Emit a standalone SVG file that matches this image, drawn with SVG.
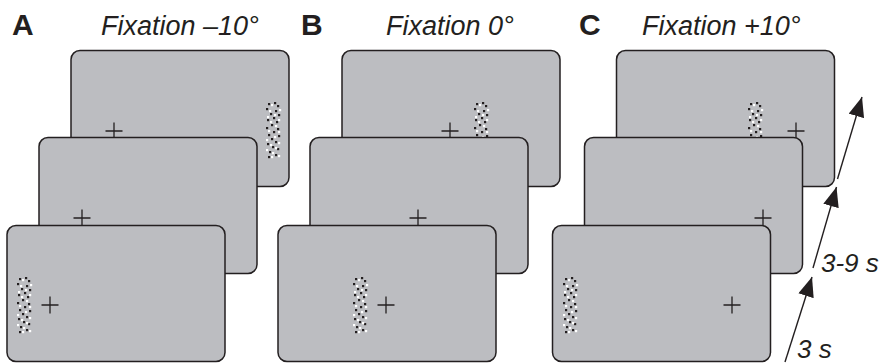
<svg xmlns="http://www.w3.org/2000/svg" width="881" height="364" viewBox="0 0 881 364">
<style>
.scr{fill:#bcbdc1;stroke:#231f20;stroke-width:1.5}
.cross{stroke:#231f20;stroke-width:1.3;fill:none}
.lbl{font-family:"Liberation Sans",Arial,sans-serif;font-weight:bold;font-size:30px;fill:#231f20}
.ttl{font-family:"Liberation Sans",Arial,sans-serif;font-style:italic;font-size:27px;fill:#231f20}
.tm{font-family:"Liberation Sans",Arial,sans-serif;font-style:italic;font-size:26px;fill:#231f20}
.conn{stroke:#231f20;stroke-width:1.4;fill:none}
.b rect{fill:#231f20}
.w rect{fill:#ffffff}
</style>
<defs>
<marker id="ah" markerUnits="userSpaceOnUse" markerWidth="20" markerHeight="16" refX="16" refY="6.5" orient="auto" viewBox="0 0 16 13">
<path d="M0,0 L16,6.5 L0,13 Z" fill="#231f20"/>
</marker>
<g id="dots">
<g class="b">
<rect x="2" y="1" width="2.2" height="2.2"/><rect x="8" y="0" width="2.2" height="2.2"/><rect x="11" y="3" width="2.2" height="2.2"/>
<rect x="0" y="6" width="2.2" height="2.2"/><rect x="9" y="8" width="2.2" height="2.2"/><rect x="4" y="11" width="2.2" height="2.2"/><rect x="12" y="12" width="2.2" height="2.2"/>
<rect x="7" y="15" width="2.2" height="2.2"/><rect x="1" y="17" width="2.2" height="2.2"/><rect x="10" y="19" width="2.2" height="2.2"/>
<rect x="5" y="22" width="2.2" height="2.2"/><rect x="0" y="25" width="2.2" height="2.2"/><rect x="11" y="26" width="2.2" height="2.2"/>
<rect x="7" y="29" width="2.2" height="2.2"/><rect x="2" y="32" width="2.2" height="2.2"/><rect x="12" y="33" width="2.2" height="2.2"/>
<rect x="5" y="36" width="2.2" height="2.2"/><rect x="9" y="39" width="2.2" height="2.2"/><rect x="1" y="41" width="2.2" height="2.2"/>
<rect x="6" y="44" width="2.2" height="2.2"/><rect x="11" y="46" width="2.2" height="2.2"/><rect x="3" y="49" width="2.2" height="2.2"/>
<rect x="9" y="52" width="2.2" height="2.2"/><rect x="2" y="54" width="2.2" height="2.2"/>
</g>
<g class="w">
<rect x="5" y="2" width="2.2" height="2.2"/><rect x="13" y="7" width="2.2" height="2.2"/><rect x="3" y="8" width="2.2" height="2.2"/>
<rect x="8" y="12" width="2.2" height="2.2"/><rect x="1" y="14" width="2.2" height="2.2"/><rect x="12" y="17" width="2.2" height="2.2"/>
<rect x="4" y="19" width="2.2" height="2.2"/><rect x="9" y="23" width="2.2" height="2.2"/><rect x="2" y="28" width="2.2" height="2.2"/>
<rect x="12" y="29" width="2.2" height="2.2"/><rect x="8" y="34" width="2.2" height="2.2"/><rect x="0" y="37" width="2.2" height="2.2"/>
<rect x="12" y="40" width="2.2" height="2.2"/><rect x="4" y="42" width="2.2" height="2.2"/><rect x="9" y="45" width="2.2" height="2.2"/>
<rect x="0" y="47" width="2.2" height="2.2"/><rect x="6" y="50" width="2.2" height="2.2"/><rect x="12" y="53" width="2.2" height="2.2"/>
<rect x="5" y="54" width="2.2" height="2.2"/>
</g>
</g>
</defs>
<rect width="881" height="364" fill="#ffffff"/>

<g id="panelA">
<text class="lbl" x="12" y="35">A</text>
<text class="ttl" x="101" y="35">Fixation –10°</text>
<g id="A-back"><rect class="scr" x="71" y="50.5" width="218" height="136" rx="9"/><use href="#dots" x="266" y="102"/><path class="cross" d="M105.5,131H122.5M114,122.5V139.5"/></g>
<g id="A-mid"><rect class="scr" x="39" y="137.5" width="218" height="136" rx="9"/><path class="cross" d="M73.5,218H90.5M82,209.5V226.5"/></g>
<g id="A-front"><rect class="scr" x="7" y="225.5" width="218" height="136" rx="9"/><use href="#dots" x="17" y="277"/><path class="cross" d="M41.5,305H58.5M50,296.5V313.5"/></g>
</g>

<g id="panelB">
<text class="lbl" x="301" y="35">B</text>
<text class="ttl" x="386" y="35">Fixation 0°</text>
<g id="B-back"><rect class="scr" x="342" y="50.5" width="218" height="136" rx="9"/><use href="#dots" x="474" y="102"/><path class="cross" d="M441.5,131H458.5M450,122.5V139.5"/></g>
<g id="B-mid"><rect class="scr" x="310" y="137.5" width="218" height="136" rx="9"/><path class="cross" d="M409.5,218H426.5M418,209.5V226.5"/></g>
<g id="B-front"><rect class="scr" x="278" y="225.5" width="218" height="136" rx="9"/><use href="#dots" x="353" y="277"/><path class="cross" d="M377.5,305H394.5M386,296.5V313.5"/></g>
</g>

<g id="panelC">
<text class="lbl" x="579" y="35">C</text>
<text class="ttl" x="642" y="35">Fixation +10°</text>
<g id="C-back"><rect class="scr" x="616.5" y="50.5" width="218" height="136" rx="9"/><use href="#dots" x="748" y="102"/><path class="cross" d="M787.5,131H804.5M796,122.5V139.5"/></g>
<g id="C-mid"><rect class="scr" x="584.5" y="137.5" width="218" height="136" rx="9"/><path class="cross" d="M754.5,218H771.5M763,209.5V226.5"/></g>
<g id="C-front"><rect class="scr" x="552.5" y="225.5" width="218" height="136" rx="9"/><use href="#dots" x="563" y="277"/><path class="cross" d="M723.5,305H740.5M732,296.5V313.5"/></g>
</g>

<g id="connectors">
<line class="conn" x1="785" y1="362" x2="812" y2="277" marker-end="url(#ah)"/>
<line class="conn" x1="813" y1="268" x2="836.5" y2="187" marker-end="url(#ah)"/>
<line class="conn" x1="837.5" y1="179" x2="862" y2="97" marker-end="url(#ah)"/>
</g>
<g id="timing">
<text class="tm" x="821" y="272">3-9 s</text>
<text class="tm" x="797" y="358">3 s</text>
</g>
</svg>
